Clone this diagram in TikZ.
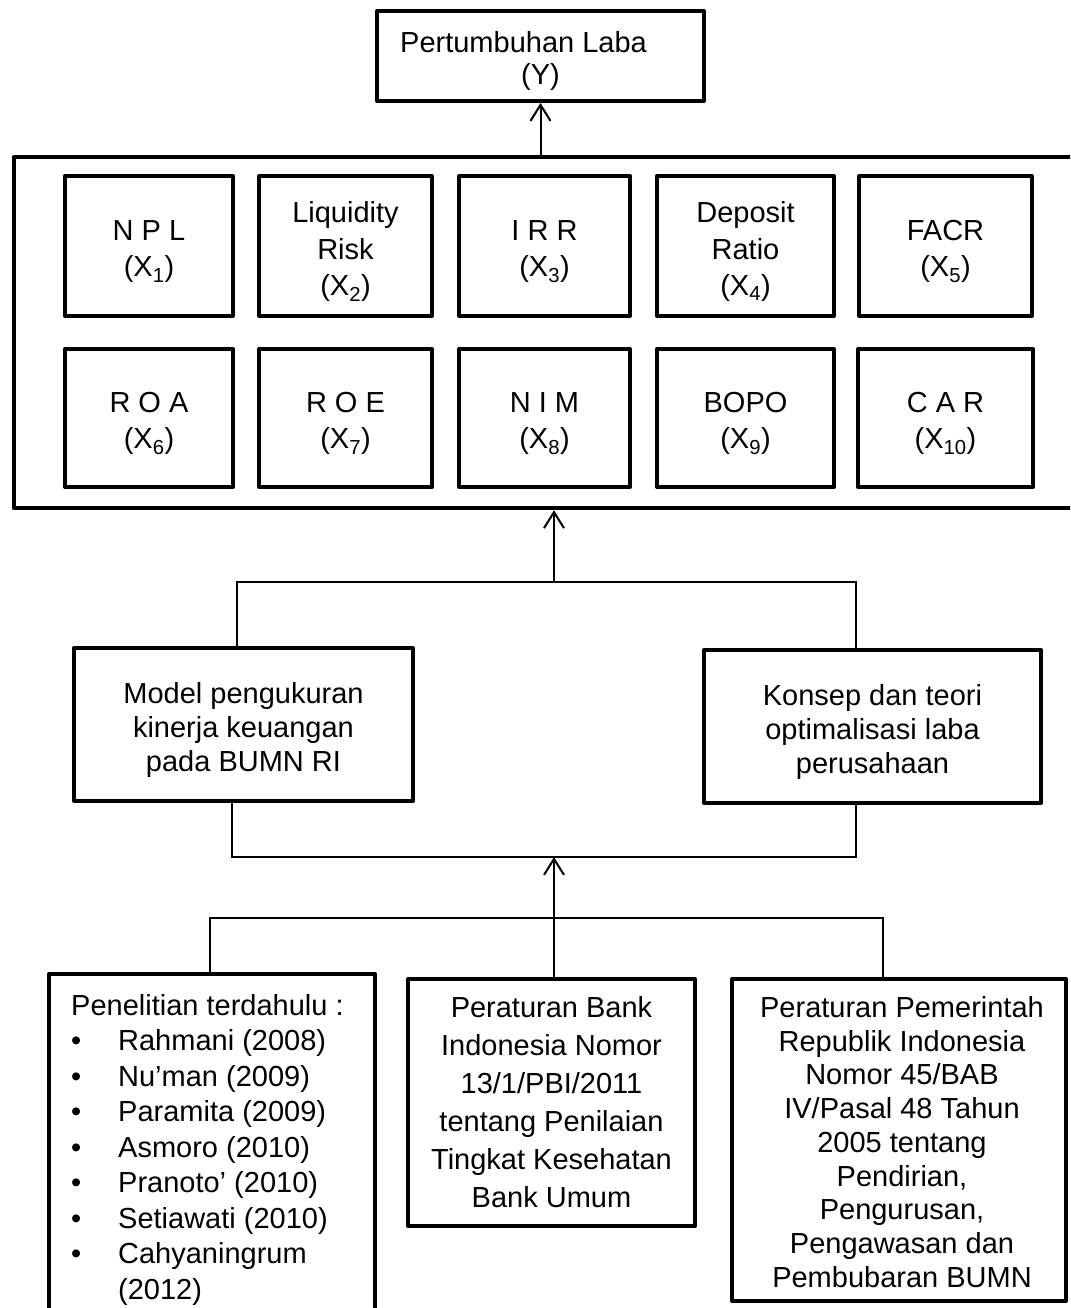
\documentclass[tikz,border=0pt]{standalone}
\usepackage{fontspec}
\setmainfont{Liberation Sans}
\usetikzlibrary{arrows.meta}
\tikzset{
  bigbox/.style={draw, line width=4.5pt, line join=round, inner sep=0pt},
  box/.style={draw, line width=4pt, line join=round, inner sep=0pt, align=center,
    font=\fontsize{29}{36.5}\selectfont},
  lab/.style={inner sep=0pt, align=center, font=\fontsize{29}{36.5}\selectfont},
  txt/.style={inner sep=0pt, font=\fontsize{29}{35.5}\selectfont},
  conn/.style={line width=1.4pt},
  arr/.style={line width=2pt, -{Straight Barb[length=16pt,width=20pt]}},
}
% name, x, y, width, height, text
\newcommand\mybx[6]{%
  \node[box, minimum width=#4pt, minimum height=#5pt] (#1) at (#2,#3) {};
  \node[lab, yshift=-5.5pt] (#1t) at (#1) {#6};}
\begin{document}
\begin{tikzpicture}[x=1pt,y=-1pt]
\useasboundingbox (0,0) rectangle (1070,1308);
\clip (0,0) rectangle (1070,1308);
% top box
\node[box, minimum width=327pt, minimum height=90pt] (ytop) at (540.5,56) {};
\node[lab, font=\fontsize{29}{31.6}\selectfont] (ytopt) at (540.5,61) {Pertumbuhan Laba\hspace*{34pt}\\(Y)};
% outer box
\node[bigbox, minimum width=1071pt, minimum height=351pt] (outer) at (549.5,332.5) {};
% row 1
\mybx{x1}{149}{246}{168}{140}{N P L\\(X\textsubscript{1})}
\mybx{x2}{345.5}{246}{173}{140}{Liquidity\\Risk\\(X\textsubscript{2})}
\mybx{x3}{544.5}{246}{171}{140}{I R R\\(X\textsubscript{3})}
\mybx{x4}{745.5}{246}{177}{140}{Deposit\\Ratio\\(X\textsubscript{4})}
\mybx{x5}{945.5}{246}{173}{140}{FACR\\(X\textsubscript{5})}
% row 2
\mybx{x6}{149}{418}{168}{138}{R O A\\(X\textsubscript{6})}
\mybx{x7}{345.5}{418}{173}{138}{R O E\\(X\textsubscript{7})}
\mybx{x8}{544.5}{418}{171}{138}{N I M\\(X\textsubscript{8})}
\mybx{x9}{745.5}{418}{177}{138}{BOPO\\(X\textsubscript{9})}
\mybx{x10}{945.5}{418}{175}{138}{C A R\\(X\textsubscript{10})}
% middle boxes
\node[box, minimum width=339pt, minimum height=153pt] (model) at (243.5,724.5) {};
\node[lab, font=\fontsize{29}{34}\selectfont, yshift=-5.5pt] (modelt) at (model) {Model pengukuran\\kinerja keuangan\\pada BUMN RI};
\node[box, minimum width=337pt, minimum height=153pt] (konsep) at (872.5,726.5) {};
\node[lab, font=\fontsize{29}{34}\selectfont, yshift=-5.5pt] (konsept) at (konsep) {Konsep dan teori\\optimalisasi laba\\perusahaan};
% bottom boxes
\node[box, minimum width=326pt, minimum height=366pt] (lbox) at (212,1157) {};
\node[box, minimum width=287pt, minimum height=247pt, font=\fontsize{29}{38}\selectfont] (mbox) at (551.5,1102.5) {Peraturan Bank\\Indonesia Nomor\\13/1/PBI/2011\\tentang Penilaian\\Tingkat Kesehatan\\Bank Umum};
\node[box, minimum width=334pt, minimum height=322pt] (rbox) at (899,1140) {};
\node[txt, align=left, anchor=north west] (ltext) at (71,994) {Penelitian terdahulu :\\
\makebox[47pt][l]{\textbullet}Rahmani (2008)\\
\makebox[47pt][l]{\textbullet}Nu’man (2009)\\
\makebox[47pt][l]{\textbullet}Paramita (2009)\\
\makebox[47pt][l]{\textbullet}Asmoro (2010)\\
\makebox[47pt][l]{\textbullet}Pranoto’ (2010)\\
\makebox[47pt][l]{\textbullet}Setiawati (2010)\\
\makebox[47pt][l]{\textbullet}Cahyaningrum\\
\hspace*{47pt}(2012)};
\node[txt, align=center, font=\fontsize{29}{33.75}\selectfont] (rtext) at (902,1142) {Peraturan Pemerintah\\Republik Indonesia\\Nomor 45/BAB\\IV/Pasal 48 Tahun\\2005 tentang\\Pendirian,\\Pengurusan,\\Pengawasan dan\\Pembubaran BUMN};
% connectors
\draw[arr] (outer.north -| ytop.south) -- (ytop.south);
\coordinate (b1l) at (237,582);
\coordinate (b1r) at (856,582);
\coordinate (b1m) at (554,582);
\draw[conn] (b1l |- model.north) -- (b1l) -- (b1r) -- (b1r |- konsep.north);
\draw[arr] (b1m) -- (b1m |- outer.south);
\coordinate (b2l) at (232,857);
\coordinate (b2r) at (856,857);
\coordinate (b2m) at (554,857);
\draw[conn] (b2l |- model.south) -- (b2l) -- (b2r) -- (b2r |- konsep.south);
\coordinate (b3l) at (210,918);
\coordinate (b3r) at (883,918);
\coordinate (b3m) at (554,918);
\draw[conn] (b3l |- lbox.north) -- (b3l) -- (b3r) -- (b3r |- rbox.north);
\draw[conn] (b3m) -- (b3m |- mbox.north);
\draw[arr] (b3m) -- (b2m);
\end{tikzpicture}
\end{document}
